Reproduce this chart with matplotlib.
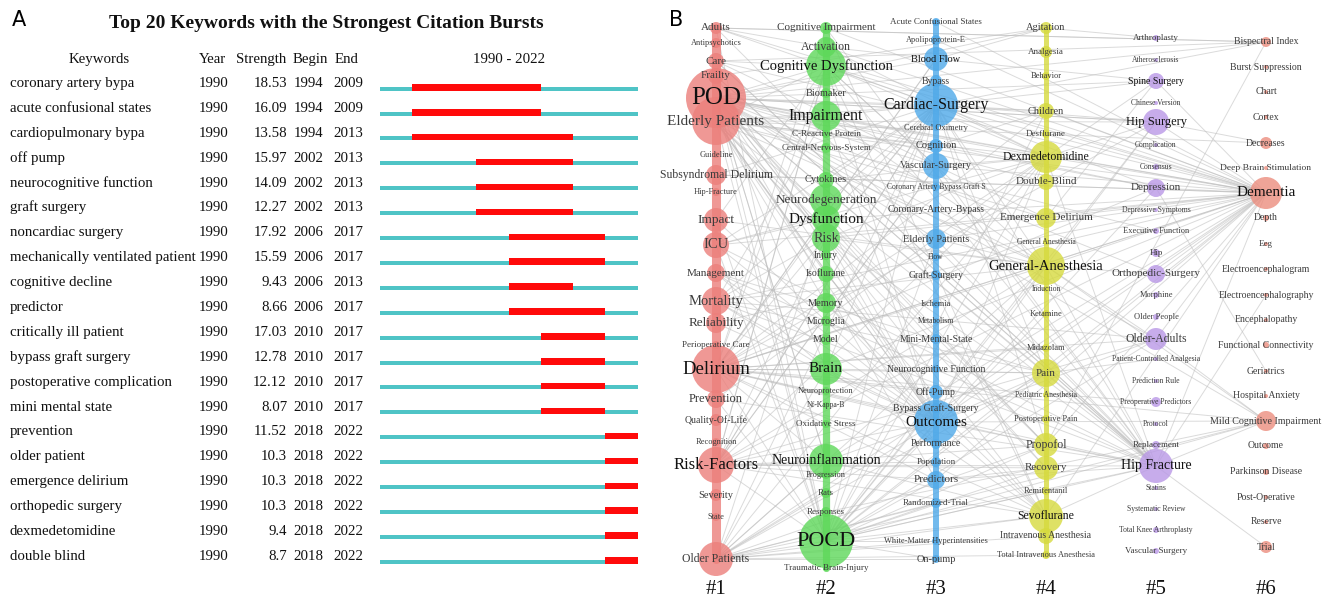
import matplotlib
matplotlib.use("Agg")
import matplotlib.pyplot as plt
from matplotlib.collections import LineCollection
from matplotlib.transforms import blended_transform_factory

W, H = 1328, 606

# ---------------- Panel A data ----------------
KEYWORDS = ["coronary artery bypa", "acute confusional states", "cardiopulmonary bypa",
            "off pump", "neurocognitive function", "graft surgery", "noncardiac surgery",
            "mechanically ventilated patient", "cognitive decline", "predictor",
            "critically ill patient", "bypass graft surgery", "postoperative complication",
            "mini mental state", "prevention", "older patient", "emergence delirium",
            "orthopedic surgery", "dexmedetomidine", "double blind"]
YEAR = [1990] * 20
STRENGTH = [18.53, 16.09, 13.58, 15.97, 14.09, 12.27, 17.92, 15.59, 9.43, 8.66,
            17.03, 12.78, 12.12, 8.07, 11.52, 10.3, 10.3, 10.3, 9.4, 8.7]
BEGIN = [1994, 1994, 1994, 2002, 2002, 2002, 2006, 2006, 2006, 2006,
         2010, 2010, 2010, 2010, 2018, 2018, 2018, 2018, 2018, 2018]
END = [2009, 2009, 2013, 2013, 2013, 2013, 2017, 2017, 2013, 2017,
       2017, 2017, 2017, 2017, 2022, 2022, 2022, 2022, 2022, 2022]
RANGE = (1990, 2022)

# ---------------- Panel B data ----------------
L1 = ["Adults", "Antipsychotics", "Care", "Frailty", "POD", "Elderly Patients", "Guideline",
      "Subsyndromal Delirium", "Hip-Fracture", "Impact", "ICU", "Management", "Mortality",
      "Reliability", "Perioperative Care", "Delirium", "Prevention", "Quality-Of-Life",
      "Recognition", "Risk-Factors", "Severity", "State", "Older Patients"]
R1 = [6, 5, 8, 8, 30, 24, 3, 10, 4, 12, 13, 9, 14, 10, 4, 24, 9, 6, 4, 18, 6, 4, 17]
L2 = ["Cognitive Impairment", "Activation", "Cognitive Dysfunction", "Biomaker", "Impairment",
      "C-Reactive Protein", "Central-Nervous-System", "Cytokines", "Neurodegeneration",
      "Dysfunction", "Risk", "Injury", "Isoflurane", "Memory", "Microglia", "Model", "Brain",
      "Neuroprotection", "Nf-Kappa-B", "Oxidative Stress", "Neuroinflammation", "Progression",
      "Rats", "Responses", "POCD", "Traumatic Brain-Injury"]
R2 = [6, 10, 20, 5, 15, 4, 5, 8, 16, 14, 14, 5, 8, 10, 5, 5, 16, 4, 3, 4, 17, 4, 5, 5, 27, 3]
L3 = ["Acute Confusional States", "Apolipoprotein-E", "Blood Flow", "Bypass", "Cardiac-Surgery",
      "Cerebral Oximetry", "Cognition", "Vascular-Surgery", "Coronary Artery Bypass Graft S",
      "Coronary-Artery-Bypass", "Elderly Patients", "Flow", "Graft-Surgery", "Ischemia",
      "Metabolism", "Mini-Mental-State", "Neurocognitive Function", "Off-Pump",
      "Bypass Graft-Surgery", "Outcomes", "Performance", "Population", "Predictors",
      "Randomized-Trial", "White-Matter Hyperintensities", "On-pump"]
R3 = [4, 5, 12, 6, 22, 3, 7, 13, 4, 3, 10, 4, 5, 4, 3, 5, 4, 7, 5, 22, 5, 5, 9, 5, 4, 4]
L4 = ["Agitation", "Analgesia", "Behavior", "Children", "Desflurane", "Dexmedetomidine",
      "Double-Blind", "Emergence Delirium", "General Anesthesia", "General-Anesthesia",
      "Induction", "Ketamine", "Midazolam", "Pain", "Pediatric Anesthesia", "Postoperative Pain",
      "Propofol", "Recovery", "Remifentanil", "Sevoflurane", "Intravenous Anesthesia",
      "Total Intravenous Anesthesia"]
R4 = [6, 6, 4, 8, 4, 16, 8, 10, 3, 19, 3, 4, 4, 14, 3, 4, 12, 12, 4, 17, 8, 4]
L5 = ["Arthroplasty", "Atherosclerosis", "Spine Surgery", "Chinese Version", "Hip Surgery",
      "Complication", "Consensus", "Depression", "Depressive Symptoms", "Executive Function",
      "Hip", "Orthopedic-Surgery", "Morphine", "Older People", "Older-Adults",
      "Patient-Controlled Analgesia", "Prediction Rule", "Preoperative Predictors", "Protocol",
      "Replacement", "Hip Fracture", "Statins", "Systematic Review", "Total Knee Arthroplasty",
      "Vascular Surgery"]
R5 = [3, 2, 8, 2, 13, 2, 3, 9, 2, 3, 4, 9, 3, 3, 11, 2, 2, 5, 2, 4, 17, 2, 2, 3, 3]
L6 = ["Bispectral Index", "Burst Suppression", "Chart", "Cortex", "Decreases",
      "Deep Brain Stimulation", "Dementia", "Depth", "Eeg", "Electroencephalogram",
      "Electroencephalography", "Encephalopathy", "Functional Connectivity", "Geriatrics",
      "Hospital Anxiety", "Mild Cognitive Impairment", "Outcome", "Parkinson Disease",
      "Post-Operative", "Reserve", "Trial"]
R6 = [5, 2, 2, 2, 6, 2, 16, 3, 2, 2, 2, 2, 3, 2, 2, 10, 3, 3, 2, 2, 6]
CLUSTERS = ["#1", "#2", "#3", "#4", "#5", "#6"]

# co-occurrence links (cluster:keyword)
LINKS = {
    "1:POD": ["2:Cognitive Dysfunction", "2:Impairment", "2:Dysfunction", "2:Risk", "2:Brain",
              "2:POCD", "2:Neuroinflammation", "3:Cardiac-Surgery", "3:Outcomes", "3:Blood Flow",
              "3:Vascular-Surgery", "3:Elderly Patients", "3:Predictors", "4:Dexmedetomidine",
              "4:General-Anesthesia", "4:Pain", "4:Sevoflurane", "4:Propofol", "4:Children",
              "4:Agitation", "5:Hip Fracture", "5:Hip Surgery", "5:Spine Surgery",
              "5:Older-Adults", "5:Depression", "5:Orthopedic-Surgery", "6:Dementia",
              "6:Bispectral Index", "6:Mild Cognitive Impairment", "3:Cognition",
              "4:Double-Blind", "4:Recovery"],
    "1:Elderly Patients": ["2:POCD", "2:Cognitive Dysfunction", "2:Impairment", "2:Risk",
                           "2:Memory", "3:Cardiac-Surgery", "3:Outcomes", "3:Cognition",
                           "4:General-Anesthesia", "4:Dexmedetomidine", "4:Emergence Delirium",
                           "4:Recovery", "5:Hip Fracture", "5:Hip Surgery", "6:Dementia",
                           "3:Performance", "4:Propofol", "5:Executive Function"],
    "1:Delirium": ["2:POCD", "2:Dysfunction", "2:Brain", "2:Neuroinflammation",
                   "2:Cognitive Impairment", "3:Cardiac-Surgery", "3:Outcomes", "3:Predictors",
                   "3:Off-Pump", "4:Dexmedetomidine", "4:Pain", "4:Sevoflurane", "4:Propofol",
                   "4:General-Anesthesia", "4:Midazolam", "5:Hip Fracture", "5:Older-Adults",
                   "5:Depression", "5:Preoperative Predictors", "6:Dementia",
                   "6:Mild Cognitive Impairment", "3:Blood Flow", "4:Children", "5:Hip Surgery"],
    "1:Risk-Factors": ["2:POCD", "2:Neuroinflammation", "2:Risk", "3:Outcomes",
                       "3:Cardiac-Surgery", "3:Predictors", "3:Population",
                       "4:General-Anesthesia", "4:Sevoflurane", "4:Recovery", "5:Hip Fracture",
                       "5:Older-Adults", "6:Dementia", "2:Cognitive Dysfunction",
                       "4:Dexmedetomidine", "3:Vascular-Surgery"],
    "1:Older Patients": ["2:POCD", "2:Neuroinflammation", "2:Rats", "3:Outcomes", "3:On-pump",
                         "3:Randomized-Trial", "4:Sevoflurane", "4:Propofol",
                         "4:Intravenous Anesthesia", "5:Hip Fracture", "6:Dementia",
                         "4:Total Intravenous Anesthesia", "3:White-Matter Hyperintensities",
                         "2:Brain", "4:Pain"],
    "1:Mortality": ["2:Brain", "2:Risk", "3:Outcomes", "3:Cardiac-Surgery", "4:Pain",
                    "5:Hip Fracture", "5:Older-Adults", "6:Dementia", "4:General-Anesthesia"],
    "1:ICU": ["3:Outcomes", "4:Dexmedetomidine", "6:Dementia", "5:Hip Fracture", "2:Dysfunction",
              "3:Cardiac-Surgery"],
    "1:Impact": ["2:POCD", "4:General-Anesthesia", "3:Outcomes", "2:Cognitive Dysfunction"],
    "1:Management": ["4:Pain", "5:Hip Fracture", "2:Brain"],
    "1:Subsyndromal Delirium": ["6:Dementia", "3:Cardiac-Surgery"],
    "1:Care": ["5:Hip Fracture", "6:Dementia", "2:Cognitive Dysfunction"],
    "1:Adults": ["3:Cardiac-Surgery", "6:Bispectral Index", "2:Activation"],
    "1:Prevention": ["4:Dexmedetomidine", "5:Hip Fracture", "2:POCD"],
    "1:Reliability": ["6:Dementia", "3:Outcomes"],
    "1:Frailty": ["3:Outcomes", "5:Hip Fracture"],
    "2:POCD": ["1:Adults", "1:ICU", "3:Cardiac-Surgery", "3:Outcomes", "3:Elderly Patients",
               "3:Predictors", "3:Off-Pump", "3:White-Matter Hyperintensities", "3:On-pump",
               "4:General-Anesthesia", "4:Dexmedetomidine", "4:Sevoflurane", "4:Propofol",
               "4:Pain", "4:Ketamine", "4:Children", "5:Hip Fracture", "5:Hip Surgery",
               "5:Older-Adults", "5:Depression", "6:Dementia", "6:Mild Cognitive Impairment",
               "3:Randomized-Trial", "4:Recovery", "4:Remifentanil"],
    "2:Cognitive Dysfunction": ["3:Cardiac-Surgery", "3:Outcomes", "4:Dexmedetomidine",
                                "4:General-Anesthesia", "4:Sevoflurane", "5:Hip Fracture",
                                "6:Dementia", "1:Delirium", "1:Risk-Factors", "3:Vascular-Surgery"],
    "2:Impairment": ["3:Cardiac-Surgery", "4:General-Anesthesia", "6:Dementia", "1:Mortality",
                     "3:Outcomes"],
    "2:Dysfunction": ["3:Outcomes", "4:Propofol", "6:Dementia", "1:Older Patients",
                      "3:Cardiac-Surgery"],
    "2:Risk": ["3:Cardiac-Surgery", "3:Outcomes", "4:General-Anesthesia", "5:Hip Fracture",
               "6:Dementia", "4:Dexmedetomidine"],
    "2:Brain": ["3:Outcomes", "4:Sevoflurane", "4:Pain", "6:Dementia", "3:Cardiac-Surgery"],
    "2:Neuroinflammation": ["3:Outcomes", "4:Sevoflurane", "6:Dementia", "1:POD", "4:Propofol"],
    "2:Memory": ["4:Sevoflurane", "3:Outcomes"],
    "2:Activation": ["3:Blood Flow", "4:Dexmedetomidine"],
    "2:Isoflurane": ["4:Sevoflurane", "1:Elderly Patients"],
    "2:Cytokines": ["3:Cardiac-Surgery", "4:Dexmedetomidine"],
    "3:Cardiac-Surgery": ["4:Dexmedetomidine", "4:General-Anesthesia", "4:Pain", "4:Propofol",
                          "4:Children", "5:Hip Fracture", "5:Hip Surgery", "5:Depression",
                          "5:Spine Surgery", "6:Dementia", "6:Bispectral Index",
                          "1:Older Patients", "1:Risk-Factors"],
    "3:Outcomes": ["4:General-Anesthesia", "4:Sevoflurane", "4:Pain", "4:Dexmedetomidine",
                   "5:Hip Fracture", "5:Older-Adults", "6:Dementia",
                   "6:Mild Cognitive Impairment", "1:Elderly Patients", "1:Management"],
    "3:Blood Flow": ["4:Agitation", "1:Delirium", "5:Spine Surgery"],
    "3:Vascular-Surgery": ["4:Dexmedetomidine", "5:Hip Fracture", "1:Risk-Factors",
                           "6:Dementia"],
    "3:Elderly Patients": ["4:General-Anesthesia", "5:Hip Fracture", "6:Dementia"],
    "3:Predictors": ["5:Hip Fracture", "4:Recovery", "6:Dementia"],
    "3:Cognition": ["4:Children", "5:Depression"],
    "4:General-Anesthesia": ["5:Hip Fracture", "5:Orthopedic-Surgery", "5:Older-Adults",
                             "5:Hip Surgery", "6:Dementia", "6:Mild Cognitive Impairment",
                             "1:Older Patients"],
    "4:Dexmedetomidine": ["5:Hip Fracture", "5:Hip Surgery", "5:Spine Surgery", "6:Dementia",
                          "1:Older Patients"],
    "4:Pain": ["5:Hip Fracture", "5:Patient-Controlled Analgesia", "6:Dementia"],
    "4:Sevoflurane": ["5:Hip Fracture", "6:Dementia", "2:Cognitive Impairment"],
    "4:Propofol": ["5:Hip Fracture", "6:Dementia", "6:Bispectral Index"],
    "4:Emergence Delirium": ["5:Spine Surgery", "6:Dementia", "1:Care"],
    "4:Children": ["6:Dementia"],
    "4:Agitation": ["5:Arthroplasty", "1:Frailty"],
    "5:Hip Fracture": ["6:Dementia", "6:Mild Cognitive Impairment", "6:Trial",
                       "6:Electroencephalography", "1:Adults", "1:Frailty", "1:Care",
                       "2:Cognitive Impairment"],
    "5:Hip Surgery": ["6:Dementia", "6:Decreases", "1:POD"],
    "5:Depression": ["6:Dementia", "6:Geriatrics"],
    "5:Older-Adults": ["6:Dementia", "6:Mild Cognitive Impairment"],
    "5:Orthopedic-Surgery": ["6:Dementia"],
    "5:Spine Surgery": ["6:Dementia"],
    "6:Dementia": ["1:Delirium", "1:Adults", "1:Subsyndromal Delirium", "2:Cognitive Impairment",
                   "2:Activation", "3:Acute Confusional States", "3:Apolipoprotein-E"],
    "6:Bispectral Index": ["1:Adults", "1:Care"],
    "6:Mild Cognitive Impairment": ["1:Older Patients", "2:Responses"],
    "6:Decreases": ["1:Elderly Patients"],
}

# ---------------- Layout / style ----------------
Y1 = [28, 43, 61, 76, 98, 121, 155, 175, 192, 220, 245, 273, 301, 323, 345, 369, 399, 420, 442,
      465, 495, 517, 559]
F1 = [8, 6, 8, 8, 18, 11, 6, 8.5, 6, 9.5, 10.5, 8, 10.5, 9.5, 6.5, 13.5, 9, 7, 6, 12, 7.5, 6, 8.5]
Y2 = [28, 47, 66, 93, 116, 134, 148, 180, 200, 219, 238, 255, 274, 303, 321, 340, 369, 391, 405,
      424, 461, 475, 493, 512, 541, 568]
F2 = [8, 8.5, 10.5, 7.5, 11.5, 6.5, 6.5, 7.5, 9.5, 11, 10, 7, 7, 7.5, 7, 7, 11, 6, 5.5, 6.5, 10,
      6, 6.5, 6.5, 16, 6.5]
Y3 = [22, 40, 59, 81, 105, 128, 146, 166, 187, 210, 239, 257, 275, 304, 321, 339, 369, 392, 408,
      422, 444, 462, 480, 503, 541, 559]
F3 = [6.5, 6, 7.5, 7, 11.5, 6, 7.5, 7.5, 5.5, 7, 7.5, 5.5, 7, 6, 5.5, 7, 7, 7, 7, 11, 7, 6.5, 8,
      6.5, 6, 7.5]
Y4 = [28, 52, 76, 111, 134, 157, 182, 218, 242, 266, 289, 314, 348, 373, 395, 419, 445, 468, 491,
      516, 536, 555]
F4 = [7.5, 6.5, 6, 7.5, 6.5, 8.5, 8, 8, 5.5, 10.5, 5.5, 6, 6, 8, 5.5, 6, 8.5, 8, 6, 8.5, 7, 6]
Y5 = [38, 60, 81, 103, 122, 145, 167, 188, 210, 231, 253, 274, 295, 317, 339, 359, 381, 402, 424,
      445, 466, 488, 509, 530, 551]
F5 = [6.5, 5.5, 7, 5.5, 9, 5.5, 5.5, 8, 5.5, 6, 6.5, 8, 6, 6, 8.5, 5.5, 5.5, 5.5, 5.5, 6.5, 10,
      5.5, 5.5, 5.5, 6.5]
Y6 = [42, 67, 92, 117, 143, 168, 193, 218, 244, 269, 295, 320, 345, 371, 396, 421, 446, 472, 497,
      522, 547]
F6 = [7, 7, 7, 7, 7, 6.8, 11, 7, 6.5, 7, 7, 7, 7, 7, 7, 7.2, 7, 7, 7, 7, 7]
COLORS = ["#EC7F7B", "#5ED85A", "#4FA9E9", "#D6DA3E", "#B998E6", "#EC8D7E"]
SPINE_W = [6.5, 5.2, 4.3, 3.6, 0, 0]
DARK = {"POD", "Delirium", "Risk-Factors", "Cognitive Dysfunction", "Impairment", "Dysfunction",
        "Brain", "Neuroinflammation", "POCD", "Cardiac-Surgery", "Outcomes", "Blood Flow",
        "Dexmedetomidine", "General-Anesthesia", "Sevoflurane", "Spine Surgery", "Hip Surgery",
        "Hip Fracture", "Dementia"}

SERIF = ["Liberation Serif", "DejaVu Serif"]
TEAL = "#4FC4C6"
RED = "#FF0A0A"

fig = plt.figure(figsize=(W / 100, H / 100), dpi=100)
fig.patch.set_facecolor("white")


def fx(px):
    return px / W


def fy(py):
    return 1 - py / H


# ---------------- Panel A ----------------
bar_top, bar_bot = 88.7 - 12.45, 561.7 + 12.45
axA = fig.add_axes([fx(380), fy(bar_bot), fx(638) - fx(380), fy(bar_top) - fy(bar_bot)])
axA.set_xlim(RANGE[0], RANGE[1] + 0.1)
axA.set_ylim(len(KEYWORDS) - 0.5, -0.5)
axA.axis("off")
n = len(KEYWORDS)
rows = list(range(n))
axA.barh(rows, [RANGE[1] - RANGE[0] + 1] * n, left=[RANGE[0]] * n, height=0.16,
         color=TEAL, linewidth=0)
axA.barh([r + 0.08 for r in rows], [e + 1 - b for b, e in zip(BEGIN, END)], left=BEGIN,
         height=-0.26, align="edge", color=RED, linewidth=0)

trA = blended_transform_factory(fig.transFigure, axA.transData)
fsA = 10.7
TXT = "#111111"
for i in rows:
    yb = i - 0.07
    axA.text(fx(10), yb, KEYWORDS[i], transform=trA, ha="left", va="baseline",
             fontsize=fsA, family=SERIF, color=TXT)
    axA.text(fx(213.5), yb, str(YEAR[i]), transform=trA, ha="center", va="baseline",
             fontsize=fsA, family=SERIF, color=TXT)
    axA.text(fx(287), yb, f"{STRENGTH[i]:g}", transform=trA, ha="right", va="baseline",
             fontsize=fsA, family=SERIF, color=TXT)
    axA.text(fx(308.5), yb, str(BEGIN[i]), transform=trA, ha="center", va="baseline",
             fontsize=fsA, family=SERIF, color=TXT)
    axA.text(fx(348), yb, str(END[i]), transform=trA, ha="center", va="baseline",
             fontsize=fsA, family=SERIF, color=TXT)

hdr_y = 63
for txt, x in [("Keywords", 99), ("Year", 213), ("Strength", 261), ("Begin", 310),
               ("End", 347), (f"{RANGE[0]} - {RANGE[1]}", 509)]:
    fig.text(fx(x), fy(hdr_y), txt, ha="center", va="baseline", fontsize=fsA, family=SERIF,
             color=TXT)
fig.text(fx(326), fy(28), "Top 20 Keywords with the Strongest Citation Bursts", ha="center",
         va="baseline", fontsize=14, fontweight="bold", family=SERIF, color=TXT)
fig.text(fx(19), fy(20), "A", ha="center", va="center", fontsize=15, family="DejaVu Sans")

# ---------------- Panel B ----------------
axB = fig.add_axes([fx(661), 0, fx(1321) - fx(661), 1])
axB.set_xlim(0.5, 6.5)
axB.set_ylim(H, 0)
axB.axis("off")

labels = [L1, L2, L3, L4, L5, L6]
radii = [R1, R2, R3, R4, R5, R6]
ys = [Y1, Y2, Y3, Y4, Y5, Y6]
fss = [F1, F2, F3, F4, F5, F6]

pos = {}
for c in range(6):
    for lab, y in zip(labels[c], ys[c]):
        pos[f"{c + 1}:{lab}"] = (c + 1, y)

segs = []
for src, tgts in LINKS.items():
    for t in tgts:
        segs.append([pos[src], pos[t]])
axB.add_collection(LineCollection(segs, colors="#bdbdbd", linewidths=0.7, alpha=0.55, zorder=1))

for c in range(6):
    k = c + 1
    if SPINE_W[c] > 0:
        axB.plot([k, k], [min(ys[c]), max(ys[c])], color=COLORS[c], lw=SPINE_W[c], alpha=0.8,
                 solid_capstyle="round", zorder=2)
    axB.scatter([k] * len(ys[c]), ys[c], s=[(1.44 * r) ** 2 for r in radii[c]],
                color=COLORS[c], alpha=0.8, linewidths=0, zorder=3)
    for lab, y, f in zip(labels[c], ys[c], fss[c]):
        axB.text(k, y, lab, ha="center", va="center", fontsize=f, family=SERIF,
                 color="#111111" if lab in DARK else "#3c3c3c", zorder=4)
    axB.text(k, 590, CLUSTERS[c], ha="center", va="center", fontsize=15, family=SERIF,
             color="#111111")

fig.text(fx(676), fy(20), "B", ha="center", va="center", fontsize=15, family="DejaVu Sans")

fig.savefig("out.png", dpi=100)
